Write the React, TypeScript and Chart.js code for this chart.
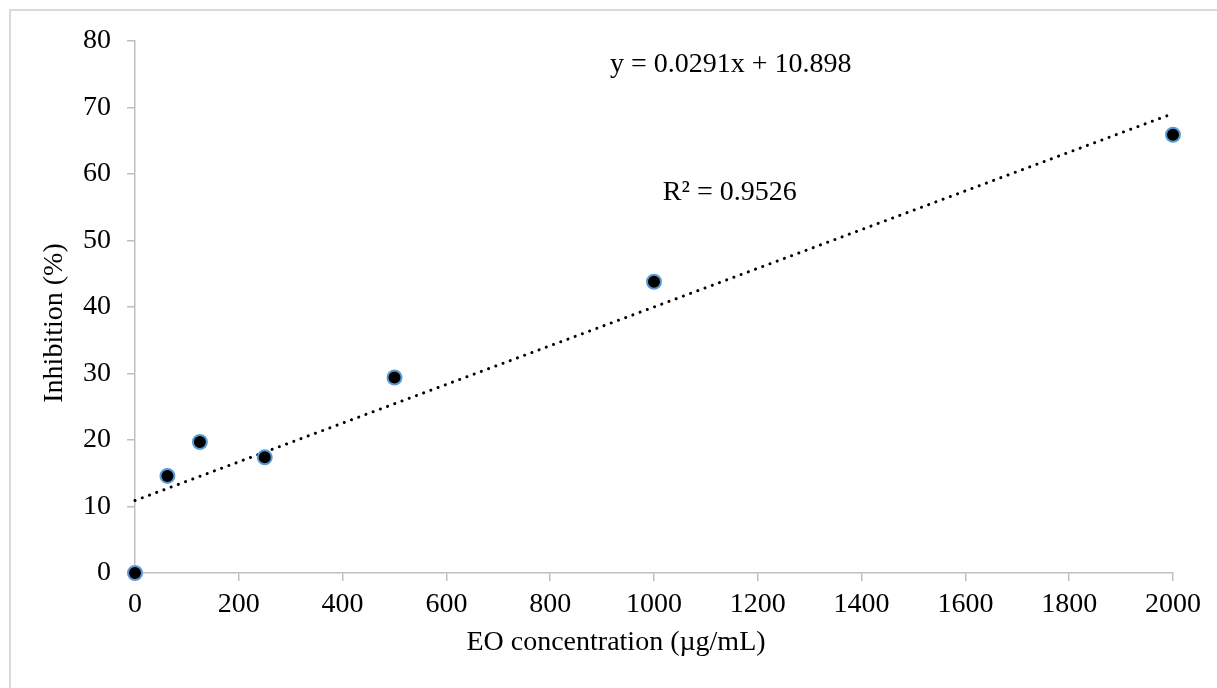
import React, { useEffect, useRef } from "react";
import { Chart, registerables } from "chart.js";

Chart.register(...registerables);

const concentrations = [0, 62.5, 125, 250, 500, 1000, 2000];
const inhibition = [0, 14.6, 19.7, 17.4, 29.4, 43.8, 65.9];
const trendX = [0, 2000];
const trendY = [10.9, 69.1];
const xTicks = { min: 0, max: 2000, step: 200 };
const yTicks = { min: 0, max: 80, step: 10 };
const equationText = "y = 0.0291x + 10.898";
const r2Text = "R\u00B2 = 0.9526";
const xTitle = "EO concentration (\u00B5g/mL)";
const yTitle = "Inhibition (%)";

const FONT = "'Liberation Serif', 'Times New Roman', serif";
const AXIS_COLOR = "#bfbfbf";

const decorPlugin = {
  id: "decor",
  beforeDraw(chart: any) {
    const ctx = chart.ctx;
    ctx.save();
    ctx.strokeStyle = "#d9d9d9";
    ctx.lineWidth = 2;
    ctx.strokeRect(10, 10, 1400, 900);
    ctx.restore();
  },
  afterDraw(chart: any) {
    const ctx = chart.ctx;
    const xs = chart.scales.x;
    const ys = chart.scales.y;
    ctx.save();
    ctx.fillStyle = "#000";
    ctx.font = `28px ${FONT}`;
    ctx.textBaseline = "alphabetic";
    ctx.textAlign = "left";
    ctx.fillText(equationText, xs.getPixelForValue(915), ys.getPixelForValue(75.3));
    ctx.fillText(r2Text, xs.getPixelForValue(1017), ys.getPixelForValue(56.1));
    ctx.textAlign = "center";
    ctx.fillText(xTitle, 616, 650);
    ctx.translate(62, 323);
    ctx.rotate(-Math.PI / 2);
    ctx.fillText(yTitle, 0, 0);
    ctx.restore();
  },
};

export default function App() {
  const ref = useRef<HTMLCanvasElement>(null);
  useEffect(() => {
    document.body.style.margin = "0";
    const canvas = ref.current!;
    const chart = new Chart(canvas, {
      type: "scatter",
      data: {
        datasets: [
          {
            label: "Inhibition",
            data: concentrations.map((x, i) => ({ x, y: inhibition[i] })),
            backgroundColor: "#000000",
            borderColor: "#5b9bd5",
            borderWidth: 2,
            pointRadius: 7,
            pointHoverRadius: 7,
            clip: false,
            order: 0,
          },
          {
            label: "Linear trend",
            data: trendX.map((x, i) => ({ x, y: trendY[i] })),
            showLine: true,
            borderColor: "#000000",
            borderWidth: 3,
            borderDash: [0.1, 7.6],
            borderCapStyle: "round",
            pointRadius: 0,
            clip: false,
            order: 1,
          } as any,
        ],
      },
      plugins: [decorPlugin],
      options: {
        animation: false,
        responsive: false,
        layout: { padding: { left: 0, right: 44, top: 41, bottom: 0 } },
        plugins: { legend: { display: false }, tooltip: { enabled: false } },
        scales: {
          x: {
            type: "linear",
            min: xTicks.min,
            max: xTicks.max,
            afterFit: (s: any) => {
              s.height = 115;
            },
            ticks: {
              stepSize: xTicks.step,
              color: "#000",
              font: { family: FONT, size: 28 },
              padding: 7,
              maxRotation: 0,
              callback: (v: any) => String(v),
            },
            grid: { drawOnChartArea: false, drawTicks: true, tickLength: 8, color: AXIS_COLOR, lineWidth: 1.5 },
            border: { display: true, color: AXIS_COLOR, width: 1.5 },
          },
          y: {
            type: "linear",
            min: yTicks.min,
            max: yTicks.max,
            afterFit: (s: any) => {
              s.width = 135;
            },
            ticks: {
              stepSize: yTicks.step,
              color: "#000",
              font: { family: FONT, size: 28 },
              padding: 16,
              callback: (v: any) => String(v),
            },
            grid: { drawOnChartArea: false, drawTicks: true, tickLength: 8, color: AXIS_COLOR, lineWidth: 1.5 },
            border: { display: true, color: AXIS_COLOR, width: 1.5 },
          },
        },
      } as any,
    });
    return () => chart.destroy();
  }, []);
  return <canvas ref={ref} width={1217} height={688} style={{ display: "block" }} />;
}
